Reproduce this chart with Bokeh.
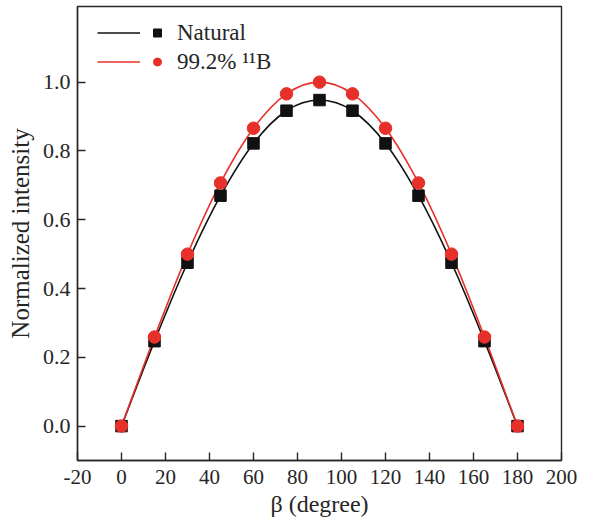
from bokeh.plotting import figure
from bokeh.models import Range1d, FixedTicker, Legend, LegendItem, ColumnDataSource
from bokeh.embed import file_html
from bokeh.resources import INLINE

beta = [0, 15, 30, 45, 60, 75, 90, 105, 120, 135, 150, 165, 180]
natural = [0.0, 0.247, 0.475, 0.670, 0.822, 0.917, 0.948, 0.917, 0.822, 0.670, 0.475, 0.247, 0.0]
enriched = [0.0, 0.259, 0.500, 0.707, 0.866, 0.966, 1.000, 0.966, 0.866, 0.707, 0.500, 0.259, 0.0]
x_ticks = [-20, 0, 20, 40, 60, 80, 100, 120, 140, 160, 180, 200]
x_labels = ["-20", "0", "20", "40", "60", "80", "100", "120", "140", "160", "180", "200"]
y_ticks = [0.0, 0.2, 0.4, 0.6, 0.8, 1.0]
y_labels = ["0.0", "0.2", "0.4", "0.6", "0.8", "1.0"]
series_names = ["Natural", "99.2% \u00b9\u00b9B"]

BLACK = "#111111"
RED = "#e8302a"
AXC = "#262626"
FONT = "Liberation Serif"

p = figure(frame_width=484, frame_height=454, output_backend="svg", toolbar_location=None,
           x_range=Range1d(-20, 200), y_range=Range1d(-0.1, 1.22))
p.min_border_left = 77
p.min_border_right = 40
p.min_border_top = 6
p.min_border_bottom = 40
p.background_fill_color = "white"
p.border_fill_color = "white"
p.grid.visible = False
p.outline_line_color = AXC
p.outline_line_width = 1.4

for ax in (p.xaxis[0], p.yaxis[0]):
    ax.axis_line_width = 1.4
    ax.axis_line_color = AXC
    ax.major_tick_line_color = AXC
    ax.major_tick_line_width = 1.4
    ax.major_tick_in = 8
    ax.major_tick_out = 0
    ax.minor_tick_line_color = None
    ax.major_label_text_font = FONT
    ax.major_label_text_color = AXC
    ax.axis_label_text_font = FONT
    ax.axis_label_text_font_style = "normal"
    ax.axis_label_text_color = AXC

p.xaxis.major_label_text_font_size = "21px"
p.yaxis.major_label_text_font_size = "22px"
p.xaxis.axis_label_text_font_size = "24px"
p.yaxis.axis_label_text_font_size = "25px"

p.xaxis.ticker = FixedTicker(ticks=x_ticks)
p.xaxis.major_label_overrides = {t: l for t, l in zip(x_ticks, x_labels)}
p.yaxis.ticker = FixedTicker(ticks=y_ticks)
p.yaxis.major_label_overrides = {t: l for t, l in zip(y_ticks, y_labels)}
p.xaxis.axis_label = "\u03b2 (degree)"
p.yaxis.axis_label = "Normalized intensity"
p.xaxis.major_label_standoff = 9
p.xaxis.axis_label_standoff = 4
p.yaxis.major_label_standoff = 7
p.yaxis.axis_label_standoff = 6


def smooth_source(xs, ys):
    # Catmull-Rom segments through the data points, drawn as cubic Beziers
    n = len(xs)
    d = dict(x0=[], y0=[], x1=[], y1=[], cx0=[], cy0=[], cx1=[], cy1=[])
    for i in range(n - 1):
        xm, ym = (xs[i - 1], ys[i - 1]) if i > 0 else (xs[i], ys[i])
        xp, yp = (xs[i + 2], ys[i + 2]) if i + 2 < n else (xs[i + 1], ys[i + 1])
        d["x0"].append(xs[i]); d["y0"].append(ys[i])
        d["x1"].append(xs[i + 1]); d["y1"].append(ys[i + 1])
        d["cx0"].append(xs[i] + (xs[i + 1] - xm) / 6.0)
        d["cy0"].append(ys[i] + (ys[i + 1] - ym) / 6.0)
        d["cx1"].append(xs[i + 1] - (xp - xs[i]) / 6.0)
        d["cy1"].append(ys[i + 1] - (yp - ys[i]) / 6.0)
    return ColumnDataSource(d)


c_nat = p.bezier(x0="x0", y0="y0", x1="x1", y1="y1", cx0="cx0", cy0="cy0", cx1="cx1", cy1="cy1",
                 source=smooth_source(beta, natural), line_color=BLACK, line_width=1.6)
c_enr = p.bezier(x0="x0", y0="y0", x1="x1", y1="y1", cx0="cx0", cy0="cy0", cx1="cx1", cy1="cy1",
                 source=smooth_source(beta, enriched), line_color=RED, line_width=1.6)
m_nat = p.scatter(beta, natural, marker="square", size=11.5, fill_color=BLACK, line_color=BLACK)
m_enr = p.scatter(beta, enriched, marker="circle", size=12.5, fill_color=RED, line_color=RED)

leg_lines = Legend(items=[LegendItem(label=" ", renderers=[c_nat]),
                          LegendItem(label=" ", renderers=[c_enr])],
                   location=(20, 384), glyph_width=43, glyph_height=29, spacing=0,
                   padding=0, margin=0, label_text_font_size="4px", label_standoff=0,
                   label_width=1, label_height=29,
                   background_fill_alpha=0, border_line_color=None)
leg_marks = Legend(items=[LegendItem(label=series_names[0], renderers=[m_nat]),
                          LegendItem(label=series_names[1], renderers=[m_enr])],
                   location=(70, 384), glyph_width=20, glyph_height=29, spacing=0,
                   padding=0, margin=0, label_text_font=FONT, label_text_font_size="23px",
                   label_text_color=AXC, label_standoff=10, label_height=29,
                   background_fill_alpha=0, border_line_color=None)
p.add_layout(leg_lines)
p.add_layout(leg_marks)

open("out.html", "w").write(file_html(p, INLINE))
